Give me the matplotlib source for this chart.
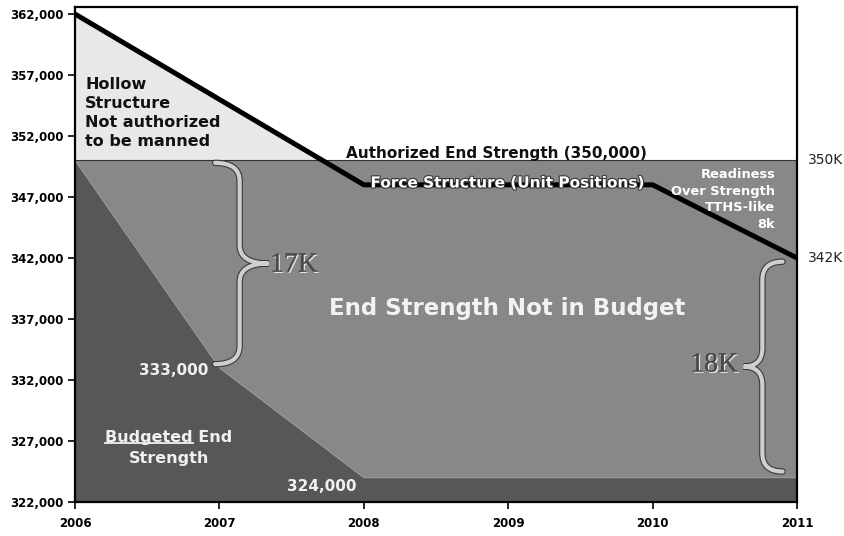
import matplotlib
matplotlib.use("Agg")
import matplotlib.pyplot as plt
import matplotlib.patheffects as pe
from matplotlib.path import Path
from matplotlib.patches import PathPatch
from matplotlib.ticker import FuncFormatter

# data
years = [2006, 2007, 2008, 2009, 2010, 2011]
force_x = [2006, 2008, 2010, 2011]
force_y = [362000, 348000, 348000, 342000]
budget_x = [2006, 2007, 2008, 2011]
budget_y = [350000, 333000, 324000, 324000]
authorized = 350000
y_ticks = list(range(322000, 362001, 5000))

LIGHT = "#e8e8e8"
MID = "#888888"
DARK = "#575757"
BOLD = dict(family="DejaVu Sans", weight="bold")


def brace(ax, x, y0, y1, w_end, w_tip, r):
    """Curly brace along x, from y0 to y1; ends bend by w_end, tip sticks out by w_tip."""
    ym = (y0 + y1) / 2
    verts = [(x + w_end, y1), (x, y1), (x, y1 - r), (x, ym + r), (x, ym),
             (x + w_tip, ym), (x, ym), (x, ym - r), (x, y0 + r), (x, y0),
             (x + w_end, y0)]
    codes = [Path.MOVETO, Path.CURVE3, Path.CURVE3, Path.LINETO, Path.CURVE3,
             Path.CURVE3, Path.CURVE3, Path.CURVE3, Path.LINETO, Path.CURVE3,
             Path.CURVE3]
    patch = PathPatch(Path(verts, codes), fill=False, edgecolor="#cfcfcf",
                      linewidth=3.0, zorder=6, capstyle="round")
    patch.set_path_effects([pe.Stroke(linewidth=4.6, foreground="#3a3a3a"),
                            pe.Normal()])
    ax.add_patch(patch)


fig = plt.figure(figsize=(8.45, 5.36), dpi=100)
ax = fig.add_axes([0.0888, 0.0634, 0.8544, 0.9235])

# areas
ax.fill_between(force_x, authorized, force_y,
                where=[v >= authorized for v in force_y], interpolate=True,
                color=LIGHT, linewidth=0, zorder=1)
ax.fill_between([years[0], years[-1]], 322000, authorized, color=MID,
                linewidth=0, zorder=2)
ax.fill_between(budget_x, 322000, budget_y, color=DARK, linewidth=0, zorder=3)
ax.plot(budget_x, budget_y, color="#9a9a9a", linewidth=0.8, zorder=3)
ax.axhline(authorized, color="#333333", linewidth=0.8, zorder=3)

# force structure line
ax.plot(force_x, force_y, color="black", linewidth=3.6, zorder=5,
        solid_capstyle="butt")

ax.set_xlim(years[0], years[-1])
ax.set_ylim(322000, 362574)
ax.set_xticks(years)
ax.set_yticks(y_ticks)
ax.yaxis.set_major_formatter(FuncFormatter(lambda v, p: f"{int(v):,}"))
ax.tick_params(direction="out", length=5, width=1.2, labelsize=8.5, pad=3)
for lab in ax.get_xticklabels() + ax.get_yticklabels():
    lab.set_fontweight("bold")
    lab.set_family("DejaVu Sans")
ax.tick_params(axis="x", pad=6)
for sp in ax.spines.values():
    sp.set_linewidth(1.6)
    sp.set_zorder(8)

# text annotations
ax.text(2006.07, 353900, "Hollow\nStructure\nNot authorized\nto be manned",
        ha="left", va="center", fontsize=11.5, color="#111111",
        linespacing=1.32, zorder=7, **BOLD)
ax.text(2008.92, 350600, "Authorized End Strength (350,000)", ha="center",
        va="center", fontsize=11, color="#111111", zorder=7, **BOLD)
t = ax.text(2008.99, 348150, "Force Structure (Unit Positions)", ha="center",
            va="center", fontsize=11, color="white", zorder=7, **BOLD)
t.set_path_effects([pe.Stroke(linewidth=1.5, foreground="#333333"), pe.Normal()])
ax.text(2010.85, 346800, "Readiness\nOver Strength\nTTHS-like\n8k", ha="right",
        va="center", fontsize=9.4, color="white", linespacing=1.38, zorder=7,
        **BOLD)
ax.text(2008.99, 337900, "End Strength Not in Budget", ha="center",
        va="center", fontsize=16.5, color="#f2f2f2", zorder=7, **BOLD)
ax.text(2006.92, 332820, "333,000", ha="right", va="center", fontsize=11,
        color="#f0f0f0", zorder=7, **BOLD)
ax.text(2007.71, 323300, "324,000", ha="center", va="center", fontsize=11,
        color="#f0f0f0", zorder=7, **BOLD)
tb = ax.text(2006.65, 327300, "Budgeted End", ha="center", va="center",
             fontsize=11.5, color="#f0f0f0", zorder=7, **BOLD)
ax.text(2006.65, 325550, "Strength", ha="center", va="center", fontsize=11.5,
        color="#f0f0f0", zorder=7, **BOLD)

emboss = [pe.withSimplePatchShadow(offset=(1, -1), shadow_rgbFace="white",
                                   alpha=0.8), pe.Normal()]
k17 = ax.text(2007.35, 341420, "17K", ha="left", va="center", fontsize=20,
              family="Liberation Serif", color="#4a4a4a", zorder=7)
k17.set_path_effects(emboss)
k18 = ax.text(2010.59, 333230, "18K", ha="right", va="center", fontsize=20,
              family="Liberation Serif", color="#4a4a4a", zorder=7)
k18.set_path_effects(emboss)

ax.text(1.015, (350000 - 322000) / (362574 - 322000), "350K",
        transform=ax.transAxes, ha="left", va="center", fontsize=10,
        family="DejaVu Sans", color="#222222")
ax.text(1.015, (342000 - 322000) / (362574 - 322000), "342K",
        transform=ax.transAxes, ha="left", va="center", fontsize=10,
        family="DejaVu Sans", color="#222222")

brace(ax, 2007.14, 333300, 349800, -0.17, 0.2, 1500)
brace(ax, 2010.76, 324500, 341700, 0.14, -0.13, 1500)

# underline "Budgeted"
fig.canvas.draw()
renderer = fig.canvas.get_renderer()
tmp = ax.text(0, 0, "Budgeted", fontsize=11.5, **BOLD)
w = tmp.get_window_extent(renderer).width
tmp.remove()
bb = tb.get_window_extent(renderer)
inv = ax.transData.inverted()
(ux0, uy), (ux1, _) = inv.transform([(bb.x0, bb.y0 + 1.5), (bb.x0 + w, bb.y0 + 1.5)])
ax.plot([ux0, ux1], [uy, uy], color="#f0f0f0", linewidth=1.3, zorder=7)

fig.savefig("out.png", dpi=100, facecolor="white")
